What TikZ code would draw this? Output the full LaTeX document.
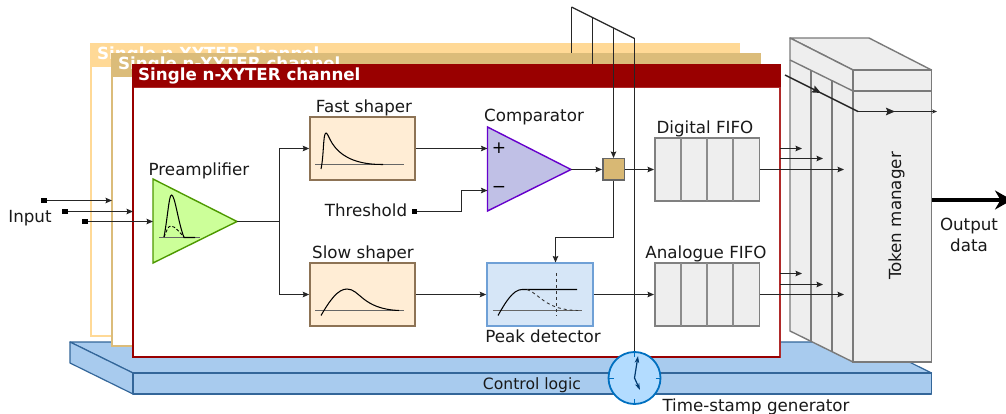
\documentclass[tikz,border=0pt]{standalone}
\usepackage{fontspec}
\setmainfont{DejaVu Sans}
\usetikzlibrary{arrows.meta,shapes.geometric}
\definecolor{frameA}{HTML}{FFD996}
\definecolor{frameB}{HTML}{DBBC7A}
\definecolor{frameC}{HTML}{990000}
\definecolor{edgeC}{HTML}{B02A2A}
\definecolor{shaperfill}{HTML}{FFEDD5}
\definecolor{shaperedge}{HTML}{8D7355}
\definecolor{ampfill}{HTML}{CCFF99}
\definecolor{ampedge}{HTML}{4D9900}
\definecolor{cmpfill}{HTML}{C0C0E6}
\definecolor{cmpedge}{HTML}{6600CC}
\definecolor{andfill}{HTML}{D8B874}
\definecolor{peakfill}{HTML}{D6E6F7}
\definecolor{peakedge}{HTML}{6FA0D6}
\definecolor{fifofill}{HTML}{EEEEEE}
\definecolor{ctrlfill}{HTML}{A8CBEE}
\definecolor{ctrledge}{HTML}{336699}
\definecolor{clockfill}{HTML}{B3DCFF}
\definecolor{clockedge}{HTML}{0070C0}
\definecolor{handcol}{HTML}{003A70}
\tikzset{
 x=1pt,y=-1pt,
 lbl/.style={font=\fontsize{16.7}{21}\selectfont,text=black!90,inner sep=0pt},
 head/.style={font=\fontsize{16.7}{20}\selectfont\bfseries,text=white,inner sep=0pt,anchor=base west},
 wire/.style={line width=1.2pt,draw=black!85},
 arr/.style={wire,-{Stealth[length=6.5pt,width=5.5pt,inset=1pt]}},
 bigarr/.style={wire,line width=1.4pt,-{Stealth[length=9pt,width=7.5pt,inset=1.5pt]}},
 boxn/.style={draw,rectangle,inner sep=0pt,line width=1.5pt},
 shaper/.style={boxn,fill=shaperfill,draw=shaperedge,minimum width=105pt,minimum height=63pt},
 fifo/.style={boxn,fill=fifofill,draw=black!50,minimum width=104.5pt,minimum height=63pt},
 solid3d/.style={fill=fifofill,draw=black!52,line width=1.4pt,line join=round},
 ctrl/.style={fill=ctrlfill,draw=ctrledge,line width=1.2pt,line join=round},
 axisl/.style={line width=0.9pt,draw=black!60},
 curve/.style={line width=1.05pt,draw=black},
 pin/.style={fill=black,draw=none,minimum size=5.5pt,inner sep=0pt,rectangle},
 sep/.style={line width=1.2pt,draw=black!45},
}
\begin{document}
\begin{tikzpicture}
\clip (0,0) rectangle (1006,414);
% control logic base
\fill[white] (0,0) rectangle (1006,414);
\draw[ctrl] (70,342) -- (869,342) -- (931.5,373) -- (133,373) -- cycle;
\draw[ctrl] (70,342) -- (133,373) -- (133,394) -- (70,363) -- cycle;
\node[ctrl,draw=ctrledge,rectangle,minimum width=798.5pt,minimum height=21pt,inner sep=0pt] (ctrlfront) at (532.25,383.5) {};
\node[lbl,font=\fontsize{15.6}{20}\selectfont] (ctrltext) at (532,385.5) {Control logic};
% token manager
\draw[solid3d] (790,38) -- (869,38) -- (931.5,70) -- (853,70) -- cycle;
\draw[solid3d] (790,38) -- (853,70) -- (853,362) -- (790,331) -- cycle;
\node[boxn,fill=fifofill,draw=black!52,minimum width=78.5pt,minimum height=292pt] (token) at (892.25,216) {};
\draw[solid3d] (853,91) -- (931.5,91);
\draw[solid3d] (790,60) -- (853,91);
\draw[solid3d] (811,70.5) -- (811,341.5);
\draw[solid3d] (832,81) -- (832,352);
\node[lbl,rotate=90] (tokentext) at (896.5,216) {Token manager};
% frames
\fill[frameA,draw=frameA,line width=1.3pt] (91,44) rectangle (739,66);
\draw[frameA,line width=1.5pt,fill=white] (91,66) rectangle (300,336);
\node[head] (hA) at (97,60) {Single n-XYTER channel};
\fill[frameB,draw=frameB,line width=1.3pt] (112,54) rectangle (760,76);
\draw[frameB,line width=1.5pt,fill=white] (112,76) rectangle (300,346);
\node[head] (hB) at (118,70) {Single n-XYTER channel};
\draw[edgeC,line width=1.5pt,fill=white] (133,87) rectangle (780,357);
\fill[frameC] (132.3,64) rectangle (780.7,87);
\draw[frameC,line width=1.5pt] (133,87) -- (133,357) -- (780,357);
\node[head] (hC) at (138,81) {Single n-XYTER channel};
% timing bus
\coordinate (busA) at (571.5,7);
\coordinate (busB) at (592.5,17.5);
\coordinate (busC) at (613.5,28);
\coordinate (busD) at (634.5,38.5);
\draw[wire] (busA) -- (busB) -- (busC) -- (busD);
\draw[wire] (busA) -- (571.5,53);
\draw[wire] (busB) -- (592.5,64);
% blocks
\node[shaper] (fast) at (362.5,148.5) {};
\node[shaper] (slow) at (362.5,294.5) {};
\node[boxn,fill=peakfill,draw=peakedge,minimum width=106pt,minimum height=63pt] (peak) at (540,294.5) {};
\node[fifo] (dfifo) at (707,169.5) {};
\node[fifo] (afifo) at (707,294.5) {};
\foreach \xx in {681,707,733}{
  \draw[sep] (\xx,138) -- (\xx,201);
  \draw[sep] (\xx,263) -- (\xx,326);
}
\node[boxn,fill=andfill,draw=black!60,minimum size=21.5pt] (gate) at (613.5,169.5) {};
% triangles
\coordinate (ampA) at (153,179); \coordinate (ampB) at (153,263); \coordinate (ampT) at (237,221.5);
\coordinate (ampI) at (153,221.5);
\draw[fill=ampfill,draw=ampedge,line width=1.4pt,line join=miter] (ampA) -- (ampT) -- (ampB) -- cycle;
\coordinate (cmpA) at (487.5,127); \coordinate (cmpB) at (487.5,211); \coordinate (cmpT) at (571,169.5);
\coordinate (cmpP) at (487.5,148.5); \coordinate (cmpM) at (487.5,190.5);
\draw[fill=cmpfill,draw=cmpedge,line width=1.4pt,line join=miter] (cmpA) -- (cmpT) -- (cmpB) -- cycle;
\node[font=\fontsize{17}{18}\selectfont,inner sep=0pt] (plus) at (499,148.5) {+};
\node[font=\fontsize{17}{18}\selectfont,inner sep=0pt] (minus) at (499,189.5) {−};
% waveforms
\draw[axisl] (159,237.5) -- (200,237.5);
\draw[curve] (164,237) .. controls (168,215) and (169,195) .. (171.5,195) .. controls (175,195) and (178,222) .. (184,237.5) -- (195,237.5);
\draw[line width=0.9pt,densely dashed] (164,237) .. controls (167,230) and (168,226) .. (171,226) .. controls (175,226) and (180,233) .. (184,237);
\draw[axisl] (315,164.5) -- (404,164.5);
\draw[curve] (321,169) .. controls (324,155) and (323,133) .. (326,133) .. controls (330,133) and (331,165) .. (383,164.5);
\draw[axisl] (315,310.5) -- (404,310.5);
\draw[curve] (321,315.5) .. controls (330,300) and (338,289) .. (347,289) .. controls (360,289) and (362,309) .. (399,310.5);
\draw[axisl] (493,310.5) -- (582,310.5);
\draw[curve] (498,315.5) .. controls (505,303) and (513,289.5) .. (522,289.5) -- (577,289.5);
\draw[line width=0.9pt,dashed,draw=black!80] (527,289.5) .. controls (540,294) and (545,310) .. (578,310.5);
\draw[line width=1.05pt,dashed,draw=black!80] (556.5,273) -- (556.5,316);
% labels
\node[lbl] (lpre) at (199,170.5) {Preamplifier};
\node[lbl] (lfast) at (364,107.5) {Fast shaper};
\node[lbl] (lslow) at (363,253.5) {Slow shaper};
\node[lbl] (lcmp) at (534,117.5) {Comparator};
\node[lbl] (lthr) at (366,210) {Threshold};
\node[lbl] (lpeak) at (543,336) {Peak detector};
\node[lbl] (ldf) at (705,128.5) {Digital FIFO};
\node[lbl] (laf) at (706,253.5) {Analogue FIFO};
\node[lbl] (linp) at (30,218) {Input};
\node[lbl,align=center] (lout) at (969,235) {Output\\data};
\node[lbl] (lts) at (756,407) {Time-stamp generator};
% input pins
\node[pin] (inA) at (44,200.5) {};
\node[pin] (inB) at (65,211.5) {};
\node[pin] (inC) at (85,221.5) {};
\node[pin] (thr) at (414.5,211.5) {};
\coordinate (inAe) at (112,200.5);
\coordinate (inBe) at (133,211.5);
\draw[arr] (inA) -- (inAe);
\draw[arr] (inB) -- (inBe);
\draw[arr] (inC) -- (ampI);
% connectors
\coordinate (split) at (279.5,221.5);
\draw[wire] (ampT) -- (split);
\draw[arr] (split) -- (split |- fast) -- (fast.west);
\draw[arr] (split) -- (split |- slow) -- (slow.west);
\draw[arr] (fast.east) -- (cmpP);
\draw[arr] (thr) -- (461.5,211.5) -- (461.5,190.5) -- (cmpM);
\draw[arr] (cmpT) -- (gate.west);
\draw[arr] (gate.east) -- (dfifo.west);
\draw[arr] (busC) -- (gate.north);
\draw[arr] (gate.south) -- (613.5,237.5) -- (555.5,237.5) -- (555.5,262.5);
\draw[arr] (slow.east) -- (peak.west);
\draw[arr] (peak.east) -- (afifo.west);
% fifo outputs
\coordinate (dA) at (780,148.5); \coordinate (dB) at (780,158.5);
\coordinate (aA) at (780,273.5); \coordinate (aB) at (780,284.5);
\draw[arr] (dA) -- (802,148.5);
\draw[arr] (dB) -- (823,158.5);
\draw[arr] (dfifo.east) -- (844,169.5);
\draw[arr] (aA) -- (802,273.5);
\draw[arr] (aB) -- (823,284.5);
\draw[arr] (afifo.east) -- (844,294.5);
% token line
\coordinate (tokS) at (785,75); \coordinate (tokM) at (858,111.5); \coordinate (tokE) at (937,111.5);
\draw[bigarr] (tokS) -- (821,93);
\draw[wire,line width=1.4pt] (820,92.5) -- (tokM);
\draw[bigarr] (tokM) -- (895,111.5);
\draw[wire,line width=1.4pt,-{Stealth[length=5pt,width=4pt]}] (894,111.5) -- (tokE);
% output
\draw[line width=4pt,-{Stealth[length=17pt,width=19pt]}] (token.east |- 0,200) -- (1012,200);
% clock
\node[draw=clockedge,fill=clockfill,circle,line width=1.8pt,minimum size=52pt,inner sep=0pt] (clock) at (634.5,378) {};
\draw[wire] (busD) -- (clock.north);
\foreach \aa in {0,90,180,270}{
  \draw[clockedge,line width=1pt] (clock.center) ++(\aa:21pt) -- ++(\aa:5pt);
}
\draw[handcol,line width=1.2pt,-{Stealth[length=7pt,width=4.5pt]}] (clock.center) -- (638,356);
\draw[handcol,line width=1.2pt,-{Stealth[length=7pt,width=4.5pt]}] (clock.center) -- (640,390);
\end{tikzpicture}
\end{document}
